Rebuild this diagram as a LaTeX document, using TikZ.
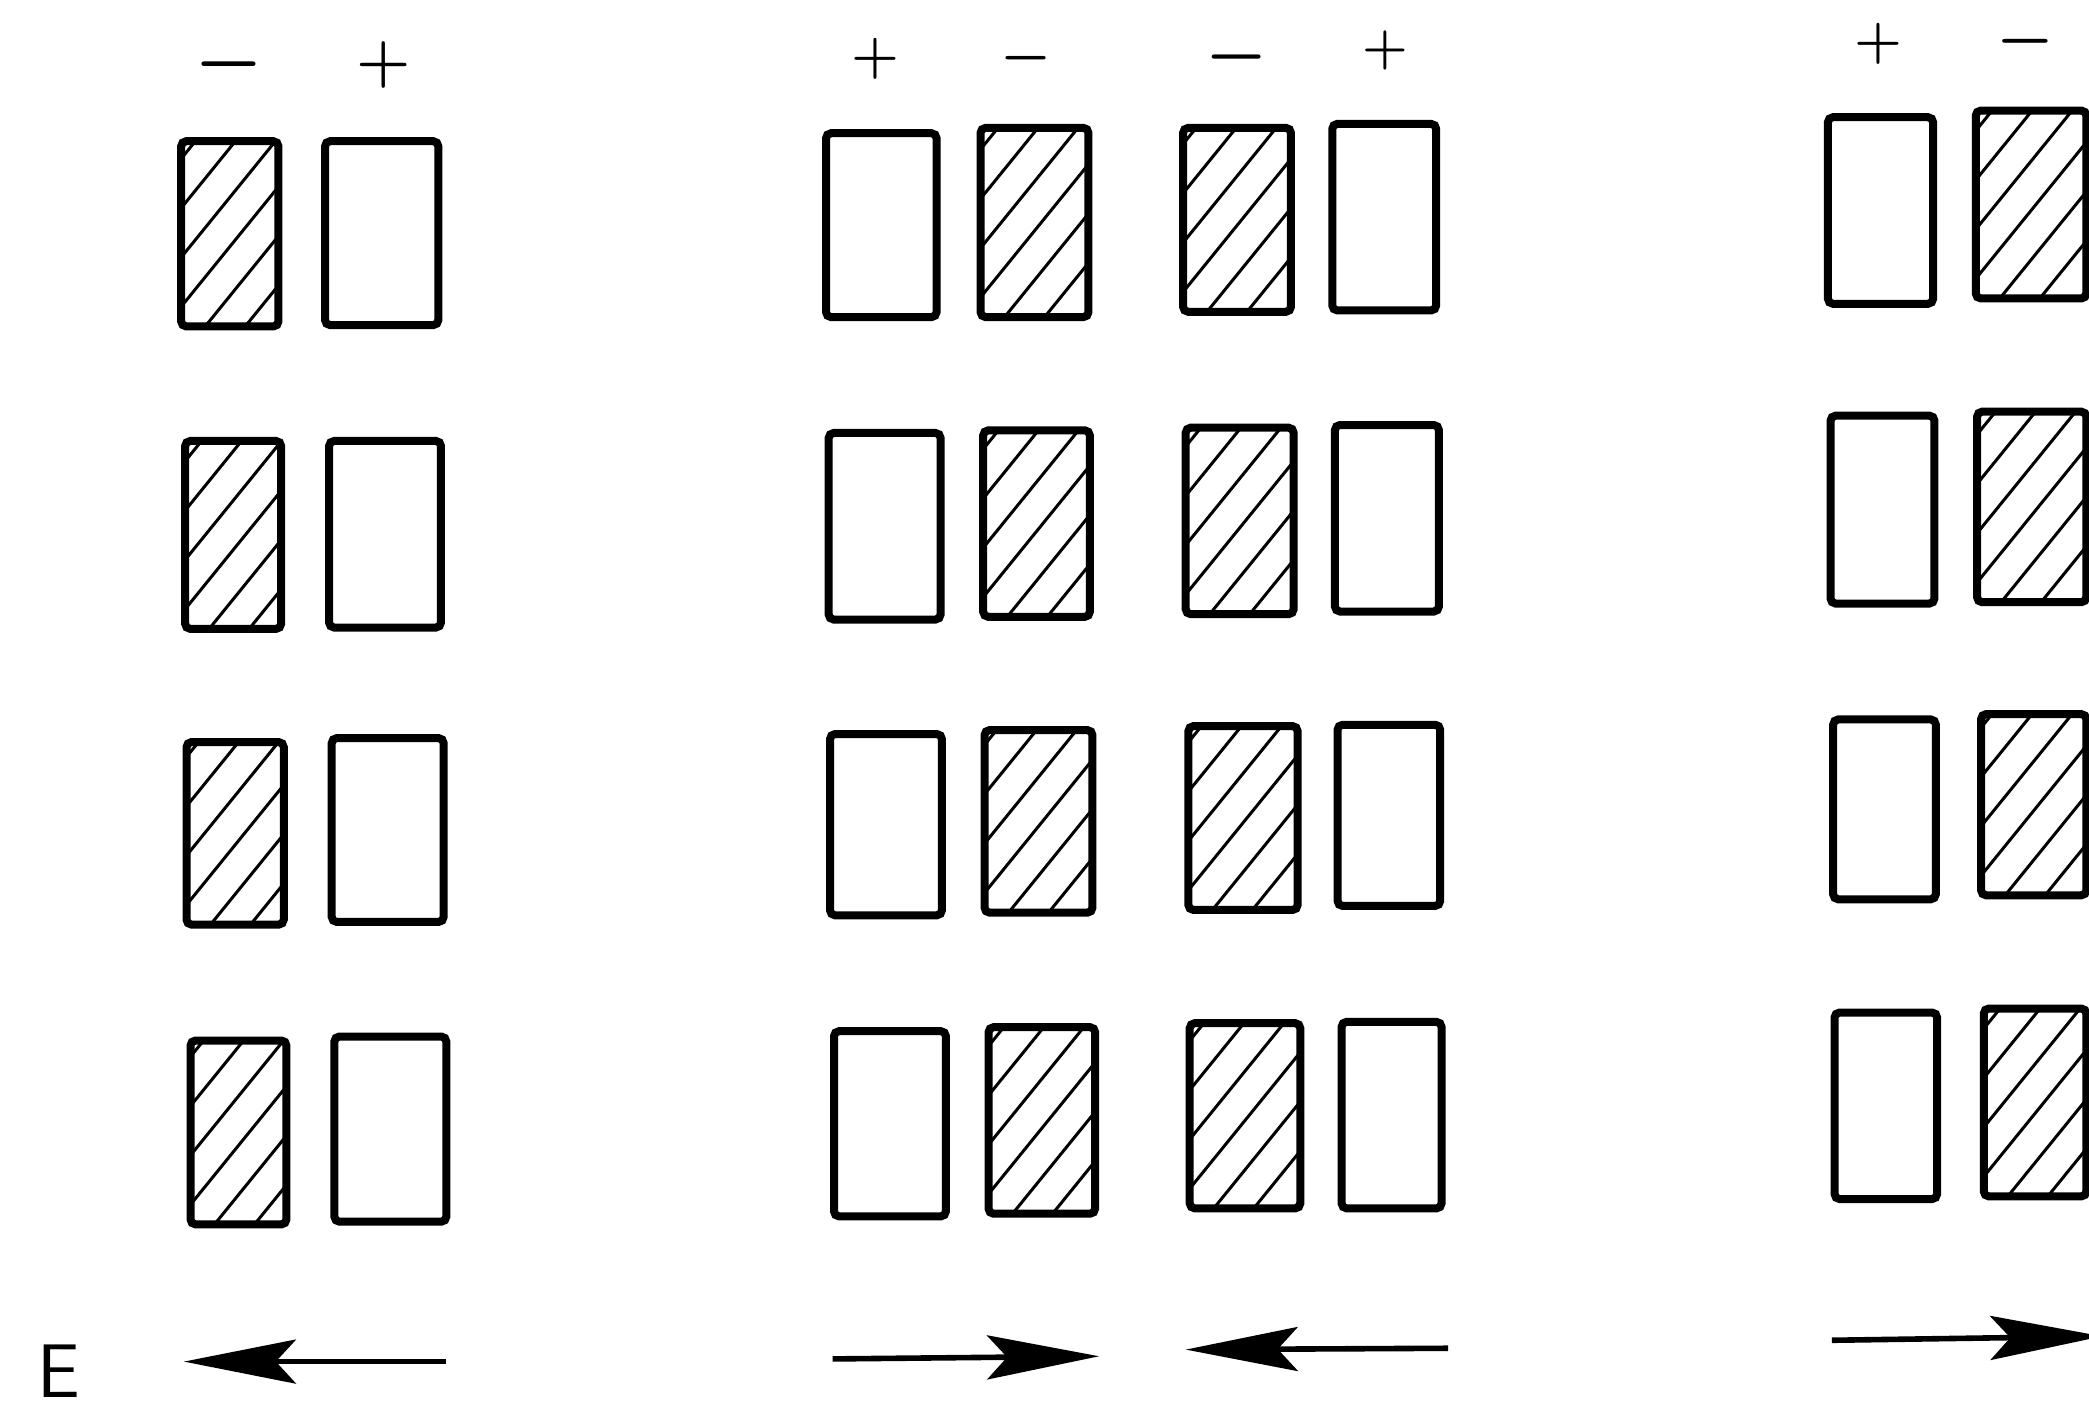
\documentclass[tikz,border=0pt]{standalone}
\usepackage{graphicx}
\usetikzlibrary{arrows.meta,calc}
\tikzset{
  box/.style={draw=black, line width=4pt, rounded corners=2.5pt, inner sep=0pt, fill=white},
  hatchbox/.style={box, path picture={
      \foreach \k in {-6,...,4}{
        \draw[line width=1.5pt] ([xshift=\k*20pt+12pt]path picture bounding box.south west) -- ++(150pt,185pt);
      }}},
  sign/.style={inner sep=0pt, text=black, font=\Huge\boldmath},
  efield/.style={line width=2.8pt, -{Stealth[length=56pt,width=22pt,inset=10pt]}},
}
\newcommand\sgnminus[1]{\scalebox{#1}{$-$}}
\newcommand\sgnplus[1]{\scalebox{#1}{$+$}}
\newcommand\mybox[6]{%
  \node[#1, minimum width={(#4-#3-6)*0.66615pt}, minimum height={(#6-#5-6)*0.66615pt}]
    (#2) at ({(#3+#4)/2},{(#5+#6)/2}) {};}
\begin{document}
\begin{tikzpicture}[x=0.66615pt, y=-0.66615pt]
\useasboundingbox (0,0) rectangle (1568,1058);
\fill[white] (0,0) rectangle (1568,1058);
\clip (0,0) rectangle (1568,1058);

% group 1
\node[sign] (g1m) at (172,48) {\sgnminus{1.55}};
\node[sign] (g1p) at (288,49) {\sgnplus{1.25}};
\mybox{hatchbox}{g1h1}{133}{212}{103}{248}
\mybox{box}{g1p1}{241}{332}{103}{247}
\mybox{hatchbox}{g1h2}{136}{214}{328}{475}
\mybox{box}{g1p2}{244}{334}{328}{474}
\mybox{hatchbox}{g1h3}{137}{216}{554}{697}
\mybox{box}{g1p3}{246}{336}{551}{695}
\mybox{hatchbox}{g1h4}{140}{218}{778}{922}
\mybox{box}{g1p4}{248}{338}{775}{920}

% group 2
\node[sign] (g2p) at (657,44) {\sgnplus{1.1}};
\node[sign] (g2m) at (770,44) {\sgnminus{1.15}};
\mybox{box}{g2p1}{617}{706}{97}{241}
\mybox{hatchbox}{g2h1}{733}{820}{93}{241}
\mybox{box}{g2p2}{619}{709}{322}{468}
\mybox{hatchbox}{g2h2}{735}{821}{320}{466}
\mybox{box}{g2p3}{620}{710}{548}{690}
\mybox{hatchbox}{g2h3}{736}{823}{545}{688}
\mybox{box}{g2p4}{623}{713}{771}{916}
\mybox{hatchbox}{g2h4}{739}{825}{768}{914}

% group 3
\node[sign] (g3m) at (928,43) {\sgnminus{1.4}};
\node[sign] (g3p) at (1040,38) {\sgnplus{1.05}};
\mybox{hatchbox}{g3h1}{885}{972}{93}{237}
\mybox{box}{g3p1}{997}{1081}{90}{236}
\mybox{hatchbox}{g3h2}{887}{974}{318}{464}
\mybox{box}{g3p2}{999}{1083}{316}{462}
\mybox{hatchbox}{g3h3}{889}{977}{542}{686}
\mybox{box}{g3p3}{1001}{1084}{541}{683}
\mybox{hatchbox}{g3h4}{890}{979}{765}{910}
\mybox{box}{g3p4}{1004}{1085}{764}{910}

% group 4
\node[sign] (g4p) at (1410,33) {\sgnplus{1.1}};
\node[sign] (g4m) at (1520,31) {\sgnminus{1.3}};
\mybox{box}{g4p1}{1369}{1454}{85}{231}
\mybox{hatchbox}{g4h1}{1480}{1569}{80}{227}
\mybox{box}{g4p2}{1371}{1455}{309}{456}
\mybox{hatchbox}{g4h2}{1481}{1569}{306}{455}
\mybox{box}{g4p3}{1373}{1456}{537}{678}
\mybox{hatchbox}{g4h3}{1484}{1569}{533}{675}
\mybox{box}{g4p4}{1374}{1457}{757}{903}
\mybox{hatchbox}{g4h4}{1486}{1569}{754}{901}

% field label and arrows
\node[inner sep=0pt, font=\sffamily\fontsize{38}{38}\selectfont] (E) at (44,1029) {E};
\coordinate (a1s) at (335,1022); \coordinate (a1e) at (138,1022);
\coordinate (a2s) at (625,1020); \coordinate (a2e) at (825,1018);
\coordinate (a3s) at (1087,1012); \coordinate (a3e) at (890,1013);
\coordinate (a4s) at (1375,1006); \coordinate (a4e) at (1578,1003);
\draw[efield] (a1s) -- (a1e);
\draw[efield] (a2s) -- (a2e);
\draw[efield] (a3s) -- (a3e);
\draw[efield] (a4s) -- (a4e);
\end{tikzpicture}
\end{document}
